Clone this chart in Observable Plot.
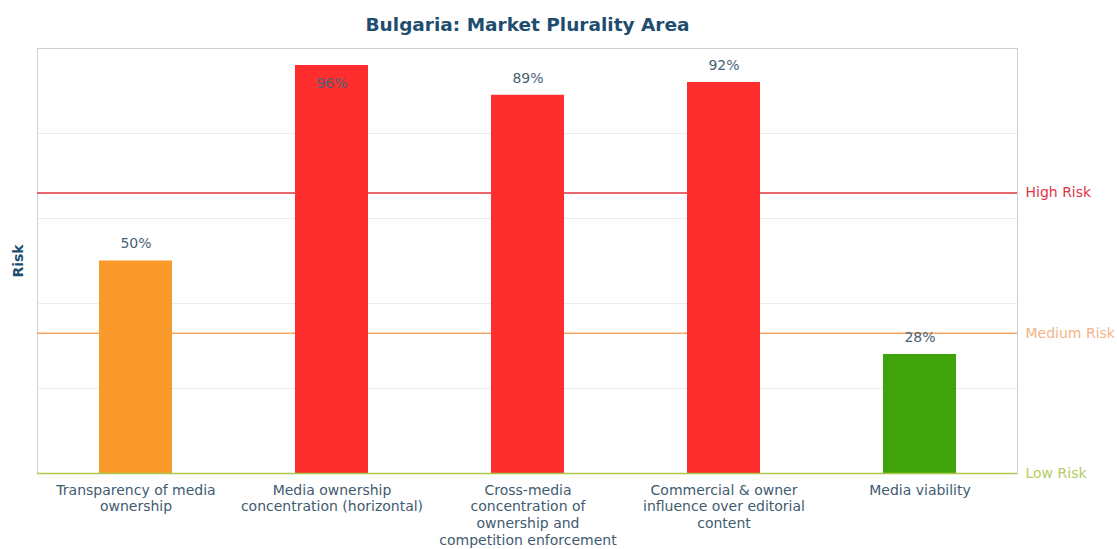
<!DOCTYPE html>
<html>
<head>
<meta charset="utf-8">
<script src="https://cdn.jsdelivr.net/npm/d3@7"></script>
<script src="https://cdn.jsdelivr.net/npm/@observablehq/plot@0.6"></script>
<style>
  html, body { margin: 0; padding: 0; background: #fff; }
  #chart svg { display: block; }
</style>
</head>
<body>
<div id="chart"></div>
<script>
const title = "Bulgaria: Market Plurality Area";
const categories = [
  "Transparency of media ownership",
  "Media ownership concentration (horizontal)",
  "Cross-media concentration of ownership and competition enforcement",
  "Commercial & owner influence over editorial content",
  "Media viability"
];
const tickLabels = [
  "Transparency of media\nownership",
  "Media ownership\nconcentration (horizontal)",
  "Cross-media\nconcentration of\nownership and\ncompetition enforcement",
  "Commercial & owner\ninfluence over editorial\ncontent",
  "Media viability"
];
const values = [50, 96, 89, 92, 28];
const barColors = ["#fb9a2c", "#ff2e2e", "#ff2e2e", "#ff2e2e", "#3fa30b"];
const riskLevels = ["Low Risk", "Medium Risk", "High Risk"];
const riskThresholds = [0, 33, 66];
const riskColors = ["#a9c84a", "#f5a865", "#e0343e"];
const riskTextColors = ["#b3cc62", "#f6b387", "#e0344a"];
const gridValues = [20, 40, 60, 80];

const bars = categories.map((c, i) => ({category: c, value: values[i], color: barColors[i]}));
const thresholds = riskLevels.map((r, i) => ({level: r, value: riskThresholds[i], color: riskColors[i], textColor: riskTextColors[i]}));
const labelOf = d => tickLabels[categories.indexOf(d)];

const chart = Plot.plot({
  width: 1117,
  height: 549,
  marginLeft: 37,
  marginRight: 100,
  marginTop: 48,
  marginBottom: 76,
  style: {fontFamily: "DejaVu Sans, sans-serif", background: "#fff"},
  x: {domain: categories, paddingInner: 0.63, paddingOuter: 0.315},
  y: {domain: [0, 100], axis: null},
  marks: [
    Plot.ruleY(gridValues, {stroke: "#ececec", strokeWidth: 1}),
    Plot.frame({stroke: "#c8d1d9", strokeWidth: 1}),
    Plot.ruleY(thresholds.filter(d => d.value > 0), {y: "value", stroke: "color", strokeWidth: 1.5}),
    Plot.barY(bars, {x: "category", y: "value", fill: "color"}),
    Plot.ruleY(thresholds.filter(d => d.value === 0), {y: "value", stroke: "color", strokeWidth: 1.5}),
    Plot.text(bars.filter(d => d.value <= 93), {x: "category", y: "value", text: d => d.value + "%", dy: -17, fontSize: 14, fill: "#4a6274"}),
    Plot.text(bars.filter(d => d.value > 93), {x: "category", y: "value", text: d => d.value + "%", dy: 18, fontSize: 14, fill: "#4a6274"}),
    Plot.text(thresholds, {y: "value", text: "level", frameAnchor: "right", textAnchor: "start", dx: 8, fontSize: 14, fill: "textColor"}),
    Plot.axisX({tickSize: 0, tickPadding: 9, tickFormat: labelOf, fontSize: 14, lineHeight: 1.21, fill: "#3f5b70", label: null}),
    Plot.text([title], {frameAnchor: "top", lineAnchor: "middle", dy: -23, fontSize: 18.5, fontWeight: "bold", fill: "#1f4d6e"}),
    Plot.text(["Risk"], {frameAnchor: "left", textAnchor: "middle", lineAnchor: "middle", rotate: -90, dx: -19, fontSize: 14, fontWeight: "bold", fill: "#1f4d6e"})
  ]
});
document.getElementById("chart").appendChild(chart);
</script>
</body>
</html>
